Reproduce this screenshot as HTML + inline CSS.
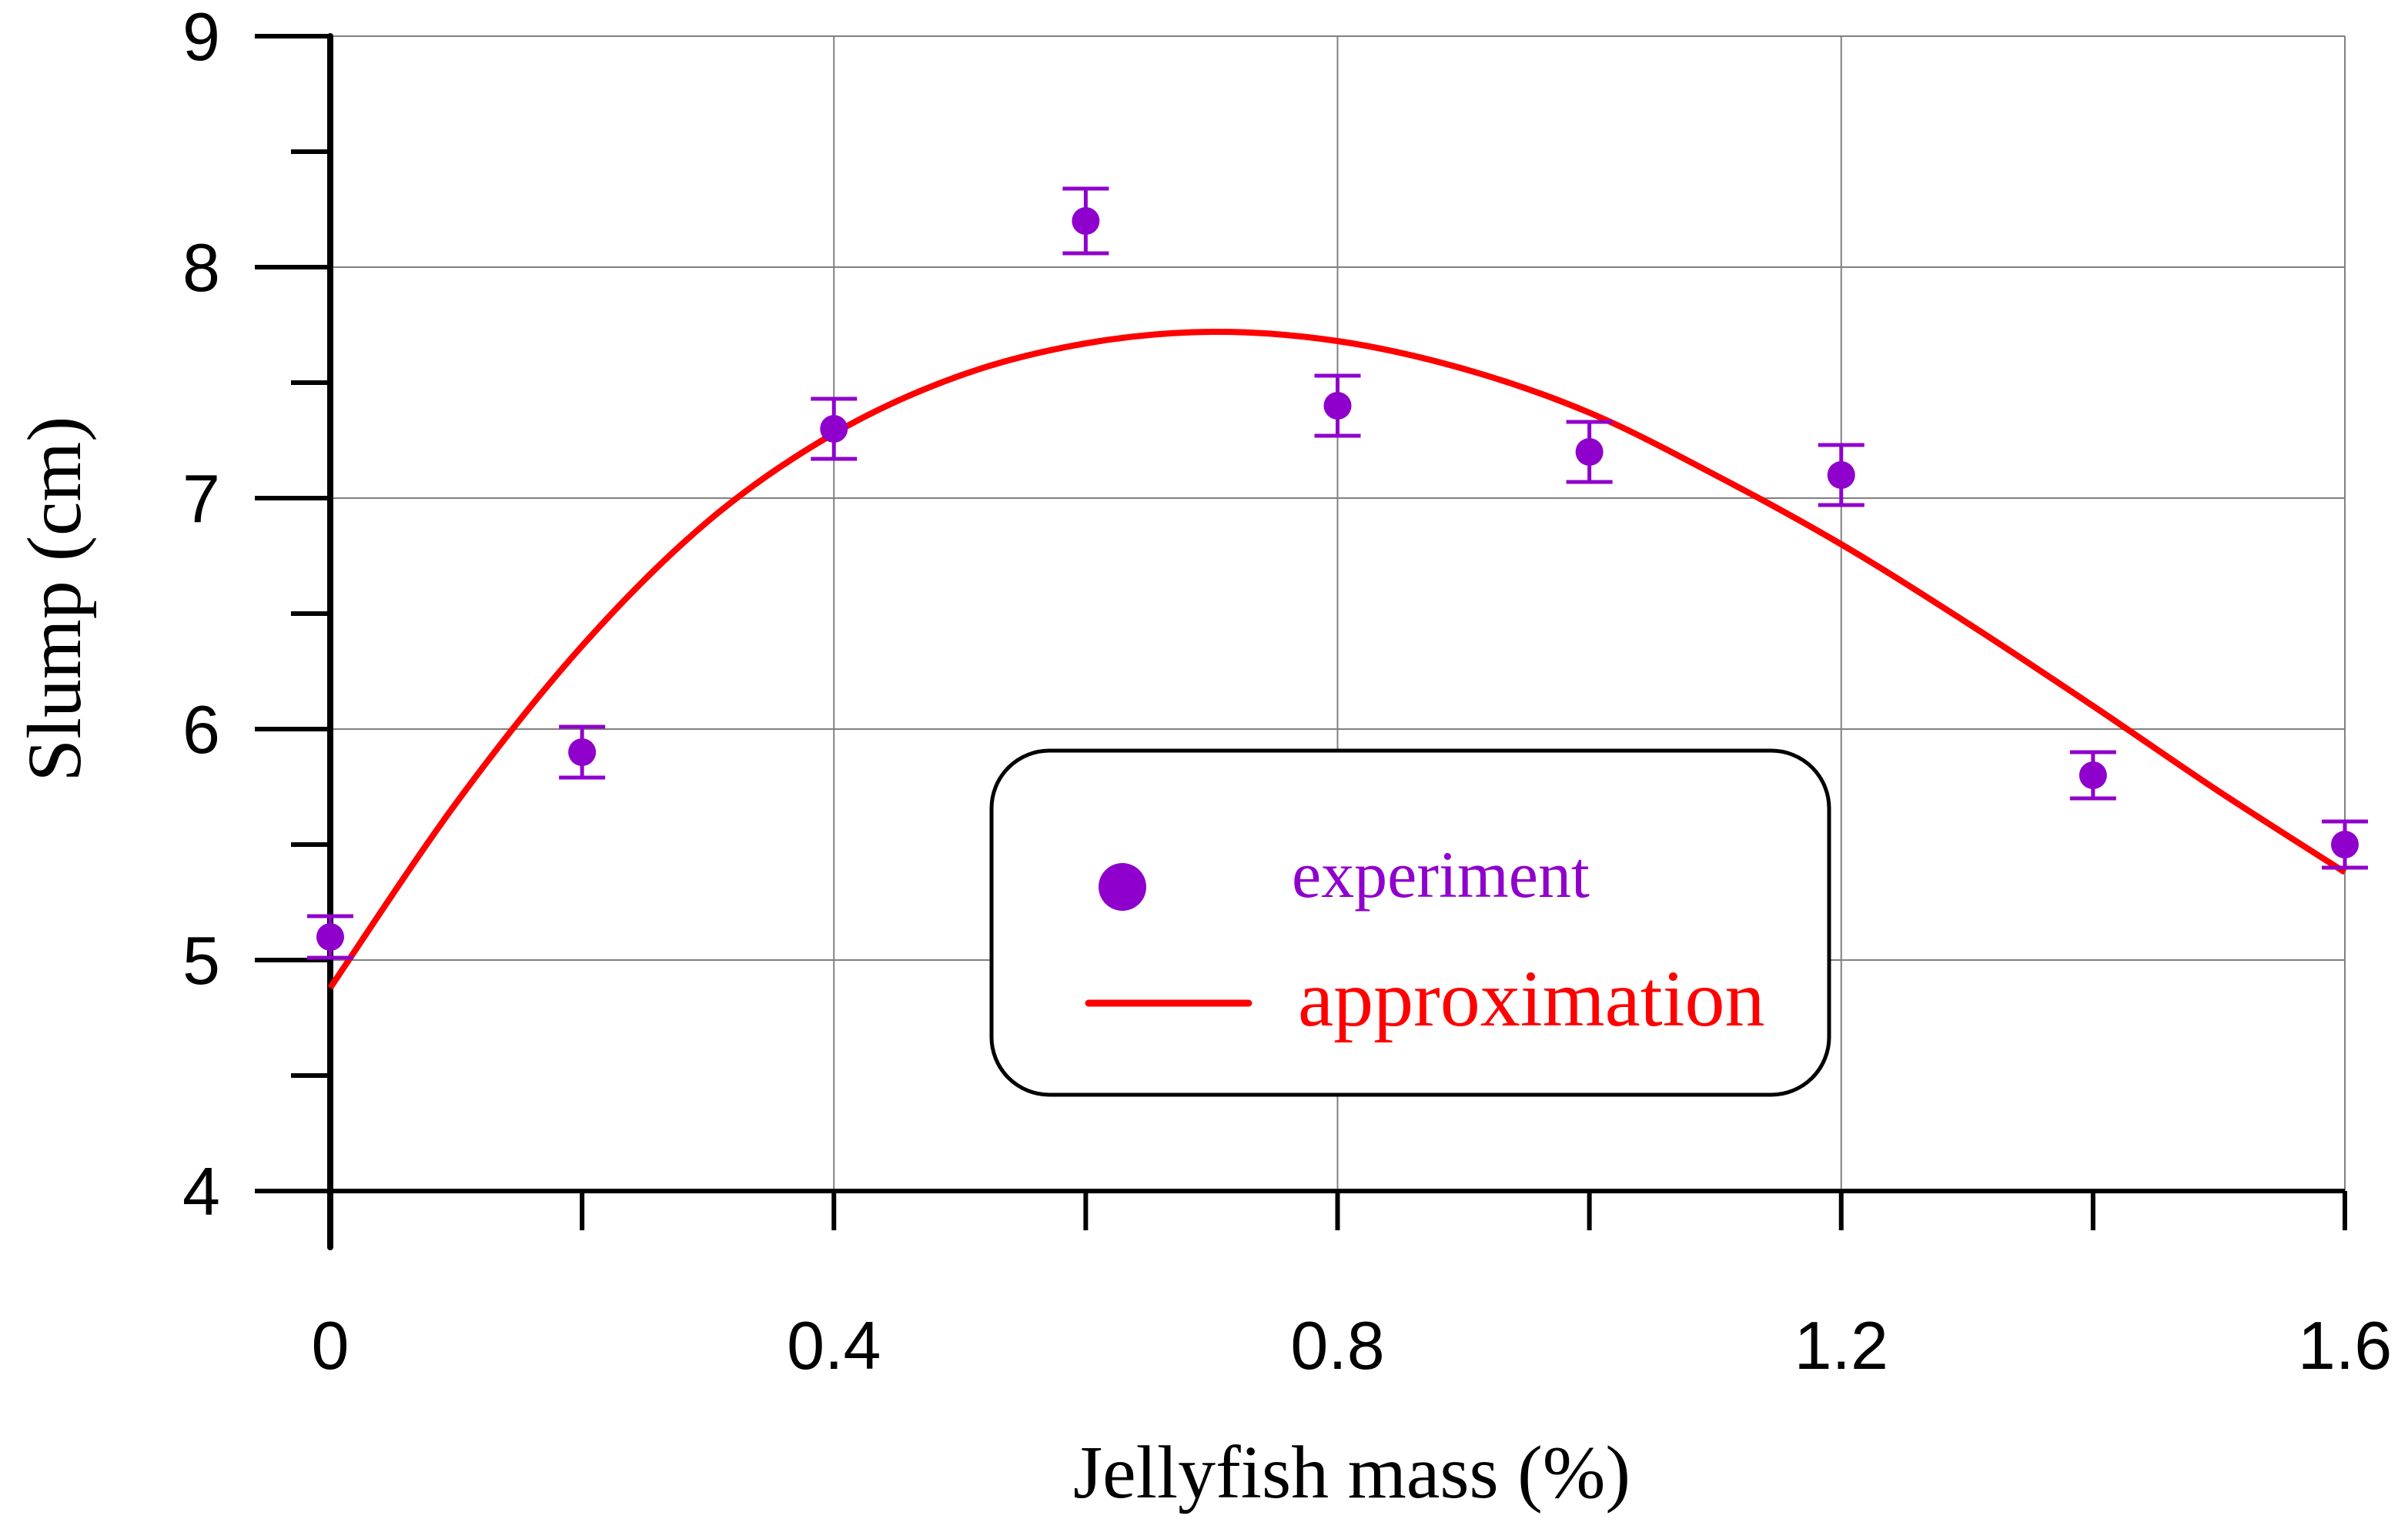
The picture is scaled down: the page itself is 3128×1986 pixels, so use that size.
<!DOCTYPE html>
<html><head><meta charset="utf-8"><style>
html,body{margin:0;padding:0;background:#fff;}
svg{display:block;}
</style></head><body>
<svg id="chart" width="3128" height="1986" viewBox="0 0 3128 1986" xmlns="http://www.w3.org/2000/svg">
<g id="grid"></g>
<g id="axes"></g>
<g id="series"></g>
<text x="1756" y="1945" text-anchor="middle" font-family="Liberation Serif, serif" font-size="98">Jellyfish mass (%)</text>
<text transform="translate(104,778) rotate(-90)" text-anchor="middle" font-family="Liberation Serif, serif" font-size="100">Slump (cm)</text>
<g>
<rect x="1288" y="975" width="1088" height="447" rx="75" ry="75" fill="#fff" stroke="#000" stroke-width="5"/>
<circle cx="1458" cy="1152" r="31" fill="#9000cc"/>
<text x="1678" y="1165" font-family="Liberation Serif, serif" font-size="86" fill="#9000cc">experiment</text>
<line x1="1414" y1="1303" x2="1622" y2="1303" stroke="#f00" stroke-width="9" stroke-linecap="round"/>
<text x="1686" y="1332" font-family="Liberation Serif, serif" font-size="104" fill="#f00">approximation</text>
</g>
</svg>
<script>
const expX = [0, 0.2, 0.4, 0.6, 0.8, 1.0, 1.2, 1.4, 1.6];
const expY = [5.1, 5.9, 7.3, 8.2, 7.4, 7.2, 7.1, 5.8, 5.5];
const expErr = [0.09, 0.11, 0.13, 0.14, 0.13, 0.13, 0.13, 0.1, 0.1];
const fitX = [0, 0.1, 0.2, 0.3, 0.4, 0.5, 0.6, 0.7, 0.8, 0.9, 1.0, 1.1, 1.2, 1.3, 1.4, 1.5, 1.6];
const fitY = [4.88, 5.68, 6.36, 6.9, 7.28, 7.53, 7.67, 7.72, 7.68, 7.56, 7.37, 7.1, 6.8, 6.46, 6.1, 5.73, 5.38];
const xTicks = [0, 0.2, 0.4, 0.6, 0.8, 1.0, 1.2, 1.4, 1.6];
const xTickLabels = ["0", "", "0.4", "", "0.8", "", "1.2", "", "1.6"];
const yTicks = [4, 4.5, 5, 5.5, 6, 6.5, 7, 7.5, 8, 8.5, 9];
const yTickLabels = ["4", "", "5", "", "6", "", "7", "", "8", "", "9"];

const NS = "http://www.w3.org/2000/svg";
const X0 = 429, X1 = 3046, Y0 = 1547, Y1 = 47;
const xs = v => X0 + (v - 0) / 1.6 * (X1 - X0);
const ys = v => Y0 - (v - 4) / 5 * (Y0 - Y1);
function mk(parent, tag, attrs) {
  const e = document.createElementNS(NS, tag);
  for (const k in attrs) e.setAttribute(k, attrs[k]);
  parent.appendChild(e);
  return e;
}
const grid = document.getElementById('grid'), axes = document.getElementById('axes'), series = document.getElementById('series');

yTicks.forEach((v, i) => {
  if (yTickLabels[i] === "" || v === 4) return;
  const l = mk(grid, 'line', {x1: X0, x2: X1, y1: ys(v), y2: ys(v), stroke: '#808080', 'stroke-width': 2});
  
  
});
xTicks.forEach((v, i) => {
  if (xTickLabels[i] === "" || v === 0) return;
  const l = mk(grid, 'line', {x1: xs(v), x2: xs(v), y1: Y1, y2: Y0, stroke: '#808080', 'stroke-width': 2});
  
  
});

let a = mk(axes, 'line', {x1: X0, x2: X0, y1: Y1, y2: 1620, stroke: '#000', 'stroke-width': 8, 'stroke-linecap': 'round'});


a = mk(axes, 'line', {x1: 331, x2: X1, y1: Y0, y2: Y0, stroke: '#000', 'stroke-width': 6});


yTicks.forEach((v, i) => {
  const major = yTickLabels[i] !== "";
  const t = mk(axes, 'line', {x1: major ? 331 : 378, x2: X0, y1: ys(v), y2: ys(v), stroke: '#000', 'stroke-width': 6});
  
  
  if (major) {
    const tx = mk(axes, 'text', {x: 286, y: ys(v) + 31, 'text-anchor': 'end', 'font-family': 'Liberation Sans, sans-serif', 'font-size': 88});
    tx.textContent = yTickLabels[i];
    
    
  }
});
xTicks.forEach((v, i) => {
  const t = mk(axes, 'line', {x1: xs(v), x2: xs(v), y1: Y0, y2: 1598, stroke: '#000', 'stroke-width': 6});
  
  
  if (xTickLabels[i] !== "") {
    const tx = mk(axes, 'text', {x: xs(v), y: 1778, 'text-anchor': 'middle', 'font-family': 'Liberation Sans, sans-serif', 'font-size': 88});
    tx.textContent = xTickLabels[i];
    
    
  }
});

const P = fitX.map((x, i) => [xs(x), ys(fitY[i])]);
let d = 'M' + P[0][0].toFixed(1) + ',' + P[0][1].toFixed(1);
for (let i = 0; i < P.length - 1; i++) {
  const p0 = P[Math.max(0, i - 1)], p1 = P[i], p2 = P[i + 1], p3 = P[Math.min(P.length - 1, i + 2)];
  const c1 = [p1[0] + (p2[0] - p0[0]) / 6, p1[1] + (p2[1] - p0[1]) / 6];
  const c2 = [p2[0] - (p3[0] - p1[0]) / 6, p2[1] - (p3[1] - p1[1]) / 6];
  d += ' C' + c1.map(n => n.toFixed(1)).join(',') + ' ' + c2.map(n => n.toFixed(1)).join(',') + ' ' + p2.map(n => n.toFixed(1)).join(',');
}
const curve = mk(series, 'path', {d: d, fill: 'none', stroke: '#f00', 'stroke-width': 8, 'stroke-linejoin': 'round'});



expX.forEach((x, i) => {
  const cx = xs(x), top = ys(expY[i] + expErr[i]), bot = ys(expY[i] - expErr[i]);
  const g = mk(series, 'g', {stroke: '#9000cc', 'stroke-width': 5});
  
  
  mk(g, 'line', {x1: cx, x2: cx, y1: top, y2: bot});
  mk(g, 'line', {x1: cx - 30, x2: cx + 30, y1: top, y2: top});
  mk(g, 'line', {x1: cx - 30, x2: cx + 30, y1: bot, y2: bot});
  const c = mk(series, 'circle', {cx: cx, cy: ys(expY[i]), r: 18, fill: '#9000cc'});
  
  
});
</script>
</body></html>
